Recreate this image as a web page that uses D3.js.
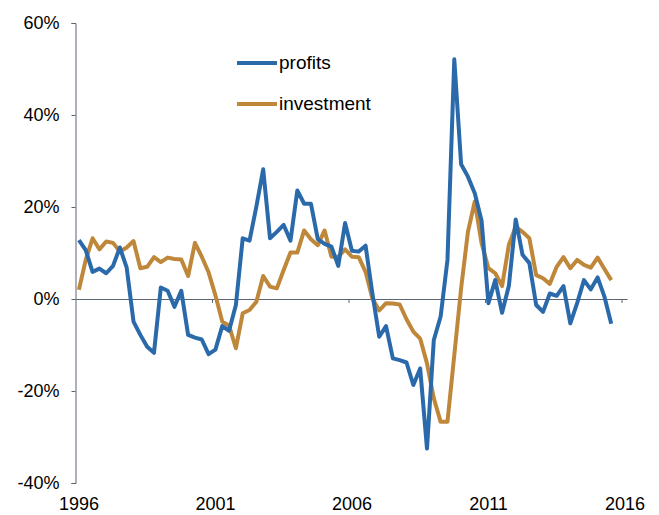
<!DOCTYPE html>
<html>
<head>
<meta charset="utf-8">
<script src="https://cdnjs.cloudflare.com/ajax/libs/d3/7.8.5/d3.min.js"></script>
<style>
  body { margin: 0; background: #fff; }
  text { font-family: "Liberation Sans", Arial, sans-serif; }
</style>
</head>
<body>
<div id="graph"></div>
<script>
// Chart size
var width = 659;
var height = 515;

// Quarterly growth rates, 1996Q1 .. 2015Q3 (%)
var startYear = 1996;
var profits = [
  12.8, 10.6, 5.9, 6.6, 5.6, 7.2, 11.2, 6.8,
  -4.9, -7.8, -10.4, -11.7, 2.5, 1.8, -1.7, 1.8,
  -7.8, -8.4, -8.8, -12.0, -11.0, -5.9, -6.9, -1.3,
  13.2, 12.7, 20.1, 28.2, 13.2, 14.6, 16.1, 12.7,
  23.6, 20.7, 20.7, 13.0, 12.0, 11.4, 7.2, 16.5,
  10.5, 10.3, 11.6, 1.2, -8.2, -5.9, -12.9, -13.3,
  -13.8, -18.7, -15.1, -32.5, -8.9, -3.8, 8.5, 52.1,
  29.3, 26.6, 23.0, 17.0, -0.9, 4.1, -3.0, 2.9,
  17.3, 9.6, 7.8, -1.3, -2.8, 1.2, 0.7, 2.8,
  -5.3, -0.9, 4.1, 2.1, 4.7, 0.5, -5.4
];
var investment = [
  2.0, 8.5, 13.2, 10.8, 12.5, 12.2, 10.3, 11.2,
  12.6, 6.7, 7.0, 9.1, 8.0, 9.0, 8.7, 8.6,
  5.0, 12.2, 9.2, 5.8, 0.8, -4.9, -5.8, -10.7,
  -3.1, -2.4, -0.6, 5.0, 2.7, 2.3, 6.3, 10.1,
  10.1, 14.9, 13.0, 11.7, 14.9, 9.2, 9.2, 10.8,
  9.2, 9.1, 5.9, 0.1, -2.5, -0.9, -1.0, -1.2,
  -4.4, -7.1, -8.6, -14.0, -21.6, -26.7, -26.7, -12.2,
  2.3, 14.6, 21.2, 12.1, 6.7, 5.6, 2.8, 11.8,
  15.7, 14.6, 13.2, 5.2, 4.5, 3.3, 7.0, 9.1,
  6.7, 8.5, 7.4, 6.8, 9.0, 6.5, 4.1
];
var yearTicks = [1996, 2001, 2006, 2011, 2016];
var pctTicks = [-40, -20, 0, 20, 40, 60];

var seriesNames = ["profits", "investment"];
var colors = { profits: "#2a6aab", investment: "#bf873a" };

// mid-quarter time positions
var quarters = d3.range(profits.length).map(function(i) { return startYear + 0.125 + i * 0.25; });

var svg = d3.select("#graph")
  .append("svg")
  .attr("width", width)
  .attr("height", height);

var xScale = d3.scaleLinear()
  .domain([1996, 2016])
  .range([75.5, 621.5]);

var yScale = d3.scaleLinear()
  .domain([-40, 60])
  .range([483, 23]);

var axisColor = "#5b6470";

// y axis
var yAxis = svg.append("g")
  .attr("transform", "translate(75.5,0)")
  .call(d3.axisLeft(yScale)
    .tickValues(pctTicks)
    .tickSize(4)
    .tickPadding(12)
    .tickFormat(function(d) { return d + "%"; }));
yAxis.select(".domain").attr("stroke", axisColor);
yAxis.selectAll(".tick line").attr("stroke", axisColor);
yAxis.selectAll(".tick text")
  .attr("font-size", 18)
  .attr("fill", "#000")
  .attr("font-family", "Liberation Sans, Arial, sans-serif");

// zero line with year ticks
var xAxis = svg.append("g")
  .attr("transform", "translate(0," + yScale(0) + ")")
  .call(d3.axisBottom(xScale)
    .tickValues(yearTicks.slice(1))
    .tickSize(4)
    .tickSizeOuter(0)
    .tickFormat(""));
xAxis.select(".domain")
  .attr("stroke", axisColor)
  .attr("d", "M" + xScale(1996) + ",0.5H" + (xScale(2016) + 6));
xAxis.selectAll(".tick line").attr("stroke", axisColor);

// year labels along the bottom
var xLabels = svg.append("g")
  .attr("transform", "translate(0,493.5)")
  .call(d3.axisBottom(xScale)
    .tickValues(yearTicks)
    .tickSize(0)
    .tickPadding(4)
    .tickFormat(d3.format("d")));
xLabels.select(".domain").remove();
xLabels.selectAll(".tick text")
  .attr("dx", 3)
  .attr("font-size", 18)
  .attr("fill", "#000")
  .attr("font-family", "Liberation Sans, Arial, sans-serif");

// lines
var line = d3.line()
  .x(function(d, i) { return xScale(quarters[i]); })
  .y(function(d) { return yScale(d); });

var data = { profits: profits, investment: investment };
["investment", "profits"].forEach(function(name) {
  svg.append("path")
    .datum(data[name])
    .attr("fill", "none")
    .attr("stroke", colors[name])
    .attr("stroke-width", 4)
    .attr("stroke-linejoin", "round")
    .attr("d", line);
});

// legend
var legend = svg.append("g");
seriesNames.forEach(function(name, i) {
  var y = 63 + i * 41;
  legend.append("line")
    .attr("x1", 237).attr("x2", 277)
    .attr("y1", y).attr("y2", y)
    .attr("stroke", colors[name])
    .attr("stroke-width", 4);
  legend.append("text")
    .attr("x", 279)
    .attr("y", y + 6)
    .attr("font-size", 19)
    .text(name);
});
</script>
</body>
</html>
